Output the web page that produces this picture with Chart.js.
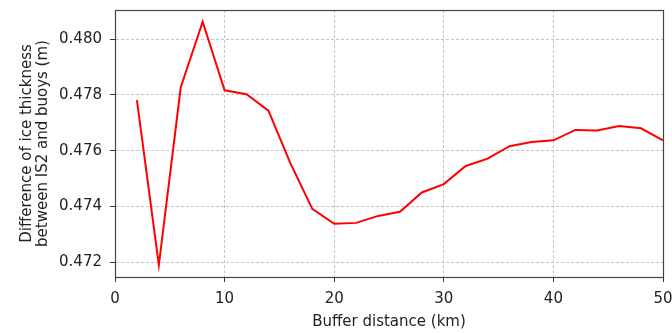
<!DOCTYPE html>
<html>
<head>
<meta charset="utf-8">
<script src="https://cdn.jsdelivr.net/npm/chart.js@4"></script>
<style>
  html, body { margin: 0; padding: 0; background: #fff; }
  #wrap { width: 672px; height: 333px; }
</style>
</head>
<body>
<div id="wrap"><canvas id="chart" width="672" height="333"></canvas></div>
<script>
// buffer distances (km) and mean difference of ice thickness (m)
const distances = [2, 4, 6, 8, 10, 12, 14, 16, 18, 20, 22, 24, 26, 28, 30, 32, 34, 36, 38, 40, 42, 44, 46, 48, 50];
const thicknessDiff = [0.47781, 0.47190, 0.47827, 0.48062, 0.47816, 0.47802, 0.47743, 0.47555, 0.47391, 0.47338, 0.47341, 0.47366, 0.47381,
  0.47450, 0.47480, 0.47545, 0.47571, 0.47616, 0.47631, 0.47637, 0.47674, 0.47672, 0.47688, 0.47680, 0.47637];
const yTicks = [0.472, 0.474, 0.476, 0.478, 0.480];
const xTicks = [0, 10, 20, 30, 40, 50];

const FONT = "'DejaVu Sans', sans-serif";

// matplotlib draws a spine on all four sides
const framePlugin = {
  id: 'frame',
  afterDraw(chart) {
    const a = chart.chartArea;
    const ctx = chart.ctx;
    ctx.save();
    ctx.setLineDash([]);
    ctx.strokeStyle = '#444';
    ctx.lineWidth = 1.2;
    ctx.strokeRect(Math.round(a.left) + 0.5, Math.round(a.top) + 0.5,
      Math.round(a.right - a.left), Math.round(a.bottom - a.top));
    ctx.restore();
  }
};

const gridOpts = { color: '#c4c4c4', lineWidth: 1, tickLength: 5, tickColor: '#333', tickWidth: 1, tickBorderDash: [] };
// in v4 border.dash is the dash pattern of the grid lines
const borderOpts = { color: '#444', width: 1, dash: [3, 2] };

const ctx = document.getElementById('chart').getContext('2d');
new Chart(ctx, {
  type: 'line',
  data: {
    datasets: [{
      data: distances.map((d, i) => ({ x: d, y: thicknessDiff[i] })),
      borderColor: '#ff0000',
      borderWidth: 2,
      pointRadius: 0,
      tension: 0,
      fill: false
    }]
  },
  options: {
    responsive: false,
    animation: false,
    layout: { padding: { top: 10, right: 9, left: 0, bottom: 0 } },
    plugins: { legend: { display: false }, tooltip: { enabled: false } },
    scales: {
      x: {
        type: 'linear',
        min: 0,
        max: 50,
        afterBuildTicks: s => { s.ticks = xTicks.map(v => ({ value: v })); },
        afterFit: s => { s.height = 56; s.paddingLeft = 0; s.paddingRight = 0; },
        grid: gridOpts,
        border: borderOpts,
        ticks: { font: { family: FONT, size: 15 }, color: '#222', padding: 8, maxRotation: 0,
          callback: v => String(v) },
        title: { display: true, text: 'Buffer distance (km)', font: { family: FONT, size: 15 }, color: '#222', padding: { top: 0, bottom: 2 } }
      },
      y: {
        type: 'linear',
        min: 0.47147,
        max: 0.48104,
        afterBuildTicks: s => { s.ticks = yTicks.map(v => ({ value: v })); },
        afterFit: s => { s.width = 115; s.paddingTop = 0; s.paddingBottom = 0; },
        grid: gridOpts,
        border: borderOpts,
        ticks: { font: { family: FONT, size: 15 }, color: '#222', padding: 8,
          callback: v => v.toFixed(3) },
        title: { display: true, text: ['Difference of ice thickness', 'between IS2 and buoys (m)'],
          font: { family: FONT, size: 15, lineHeight: 1.05 }, color: '#222', padding: { top: 19, bottom: 0 } }
      }
    }
  },
  plugins: [framePlugin]
});
</script>
</body>
</html>
